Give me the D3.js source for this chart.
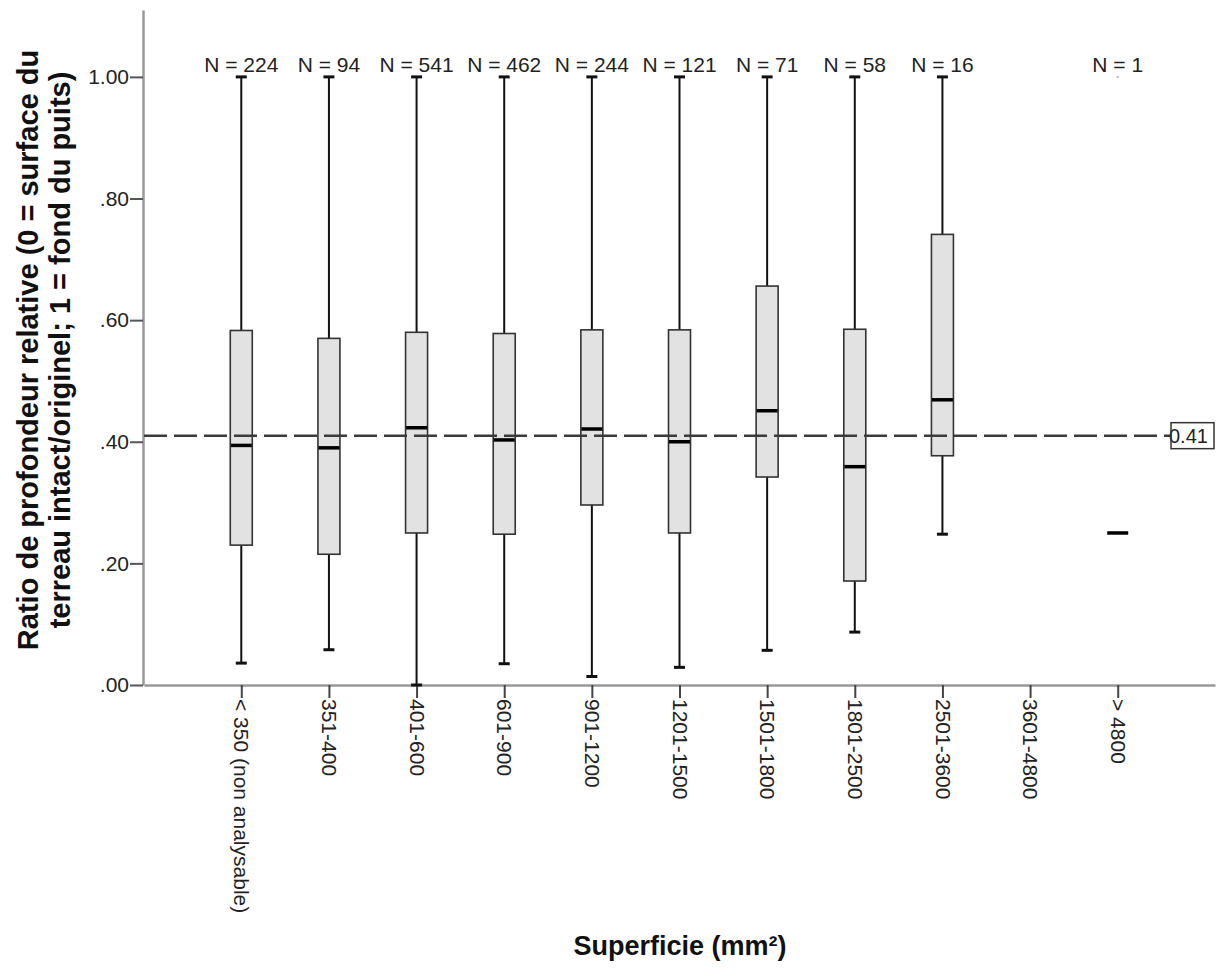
<!DOCTYPE html>
<html>
<head>
<meta charset="utf-8">
<script src="https://cdn.jsdelivr.net/npm/d3@7"></script>
<style>
  body { margin: 0; background: #fff; }
  svg { font-family: "Liberation Sans", Arial, sans-serif; }
</style>
</head>
<body>
<div id="chart"></div>
<script>
// values
const categories = ["< 350 (non analysable)", "351-400", "401-600", "601-900", "901-1200",
  "1201-1500", "1501-1800", "1801-2500", "2501-3600", "3601-4800", "> 4800"];
const nCounts = [224, 94, 541, 462, 244, 121, 71, 58, 16, null, 1];
const whiskerLow = [0.036, 0.058, 0.0, 0.035, 0.014, 0.029, 0.057, 0.087, 0.248, null, 0.25];
const q1 = [0.230, 0.215, 0.250, 0.248, 0.296, 0.250, 0.342, 0.171, 0.377, null, 0.25];
const medians = [0.394, 0.390, 0.423, 0.403, 0.421, 0.400, 0.451, 0.359, 0.469, null, 0.25];
const q3 = [0.583, 0.570, 0.580, 0.578, 0.584, 0.584, 0.656, 0.585, 0.741, null, 0.25];
const whiskerHigh = [1, 1, 1, 1, 1, 1, 1, 1, 1, null, 0.25];
const refValue = 0.41;
const yTicks = [0, 0.2, 0.4, 0.6, 0.8, 1.0];

const W = 1223, H = 970;
const svg = d3.select("#chart").append("svg").attr("width", W).attr("height", H);

const x = d3.scalePoint().domain(categories).range([144, 1215]).padding(1.11);
const y = d3.scaleLinear().domain([0, 1.11]).range([685, 10]);

const boxes = categories.map((c, i) => ({
  cat: c, n: nCounts[i], lo: whiskerLow[i], q1: q1[i], med: medians[i], q3: q3[i], hi: whiskerHigh[i]
})).filter(d => d.n !== null);

const boxW = 22, capW = 11;

// y axis
const yAxis = svg.append("g").attr("transform", "translate(143,0)")
  .call(d3.axisLeft(y).tickValues(yTicks).tickSize(13).tickSizeOuter(0)
    .tickFormat(d => d === 1 ? "1.00" : d3.format(".2f")(d).replace(/^0/, "")));
yAxis.select(".domain").attr("stroke", "#999").attr("stroke-width", 2.5);
yAxis.selectAll(".tick line").attr("stroke", "#555").attr("stroke-width", 2);
yAxis.selectAll(".tick text").attr("font-size", 21).attr("fill", "#222").attr("x", -14);

// x axis
const xAxis = svg.append("g").attr("transform", "translate(0,685)")
  .call(d3.axisBottom(x).tickSize(13).tickSizeOuter(0));
xAxis.select(".domain").attr("stroke", "#999").attr("stroke-width", 2.5);
xAxis.selectAll(".tick line").attr("stroke", "#444").attr("stroke-width", 2);
xAxis.selectAll(".tick text")
  .attr("font-size", 21).attr("fill", "#222")
  .attr("transform", "rotate(90)")
  .attr("x", 14).attr("y", 0).attr("dy", "0.35em")
  .style("text-anchor", "start");

// boxes
const g = svg.append("g");
boxes.forEach(d => {
  const cx = x(d.cat);
  const single = d.q1 === d.q3;
  if (!single) {
    g.append("line").attr("x1", cx).attr("x2", cx).attr("y1", y(d.hi)).attr("y2", y(d.q3))
      .attr("stroke", "#111").attr("stroke-width", 2);
    g.append("line").attr("x1", cx).attr("x2", cx).attr("y1", y(d.q1)).attr("y2", y(d.lo))
      .attr("stroke", "#111").attr("stroke-width", 2);
    [d.hi, d.lo].forEach(v => {
      g.append("line").attr("x1", cx - capW / 2).attr("x2", cx + capW / 2)
        .attr("y1", y(v)).attr("y2", y(v)).attr("stroke", "#111").attr("stroke-width", 3);
    });
    g.append("rect").attr("x", cx - boxW / 2).attr("y", y(d.q3))
      .attr("width", boxW).attr("height", y(d.q1) - y(d.q3))
      .attr("fill", "#e2e2e2").attr("stroke", "#333").attr("stroke-width", 1.6);
  } else {
    // lone value, SPSS leaves a faint dot at the top
    g.append("circle").attr("cx", cx).attr("cy", y(1)).attr("r", 1.2).attr("fill", "#bbb");
  }
  g.append("line").attr("x1", cx - boxW / 2 + 0.5).attr("x2", cx + boxW / 2 - 0.5)
    .attr("y1", y(d.med)).attr("y2", y(d.med)).attr("stroke", "#000").attr("stroke-width", 3.5);

  g.append("text").attr("x", cx).attr("y", 72).attr("text-anchor", "middle")
    .attr("font-size", 21).attr("fill", "#222").text("N = " + d.n);
});

// reference line
const ry = y(refValue);
svg.append("line").attr("x1", 144).attr("x2", 1171).attr("y1", ry).attr("y2", ry)
  .attr("stroke", "#3a3a3a").attr("stroke-width", 2.5).attr("stroke-dasharray", "23,7");
svg.append("rect").attr("x", 1171).attr("y", ry - 13).attr("width", 43).attr("height", 26)
  .attr("fill", "#fff");
svg.append("text").attr("x", 1169).attr("y", ry).attr("dy", "0.35em")
  .attr("font-size", 20).attr("fill", "#222").text(refValue.toFixed(2));
svg.append("rect").attr("x", 1171).attr("y", ry - 13).attr("width", 43).attr("height", 26)
  .attr("fill", "none").attr("stroke", "#333").attr("stroke-width", 1.5);

// titles
svg.append("text").attr("x", 680).attr("y", 955).attr("text-anchor", "middle")
  .attr("font-size", 27).attr("font-weight", "bold").attr("fill", "#111")
  .text("Superficie (mm²)");

const yt = svg.append("text").attr("transform", "translate(0,350) rotate(-90)")
  .attr("text-anchor", "middle").attr("font-size", 29).attr("font-weight", "bold").attr("fill", "#111");
yt.append("tspan").attr("x", 0).attr("y", 38).text("Ratio de profondeur relative (0 = surface du");
yt.append("tspan").attr("x", 0).attr("y", 70).text("terreau intact/originel; 1 = fond du puits)");
</script>
</body>
</html>
